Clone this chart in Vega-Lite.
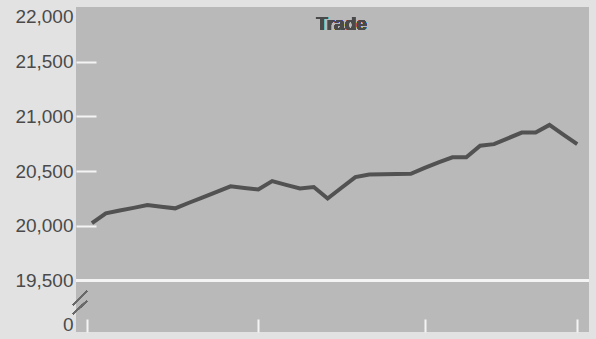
{
  "$schema": "https://vega.github.io/schema/vega-lite/v6.json",
  "width": 596,
  "height": 339,
  "autosize": {"type": "fit", "contains": "padding"},
  "padding": {"left": 0, "top": 6, "right": 6, "bottom": 4},
  "background": "#e2e2e2",
  "view": {"fill": "#b9b9b9", "stroke": null},
  "config": {
    "font": "Liberation Sans",
    "axis": {"grid": false, "domain": false}
  },
  "data": {
    "values": [
      {"month": 0, "trade": 20024},
      {"month": 1, "trade": 20115},
      {"month": 2, "trade": 20140},
      {"month": 3, "trade": 20164},
      {"month": 4, "trade": 20190},
      {"month": 5, "trade": 20174},
      {"month": 6, "trade": 20160},
      {"month": 7, "trade": 20211},
      {"month": 8, "trade": 20260},
      {"month": 9, "trade": 20311},
      {"month": 10, "trade": 20361},
      {"month": 11, "trade": 20346},
      {"month": 12, "trade": 20332},
      {"month": 13, "trade": 20409},
      {"month": 14, "trade": 20375},
      {"month": 15, "trade": 20341},
      {"month": 16, "trade": 20355},
      {"month": 17, "trade": 20250},
      {"month": 18, "trade": 20348},
      {"month": 19, "trade": 20445},
      {"month": 20, "trade": 20470},
      {"month": 21, "trade": 20472},
      {"month": 22, "trade": 20474},
      {"month": 23, "trade": 20476},
      {"month": 24, "trade": 20529},
      {"month": 25, "trade": 20581},
      {"month": 26, "trade": 20626},
      {"month": 27, "trade": 20626},
      {"month": 28, "trade": 20732},
      {"month": 29, "trade": 20747},
      {"month": 30, "trade": 20800},
      {"month": 31, "trade": 20852},
      {"month": 32, "trade": 20852},
      {"month": 33, "trade": 20922},
      {"month": 34, "trade": 20834},
      {"month": 35, "trade": 20747}
    ]
  },
  "layer": [
    {
      "mark": {"type": "rule", "color": "#f4f4f4", "strokeWidth": 2},
      "encoding": {"y": {"datum": 19500, "type": "quantitative"}}
    },
    {
      "mark": {"type": "line", "color": "#525252", "strokeWidth": 4, "strokeJoin": "miter"},
      "encoding": {
        "x": {
          "field": "month",
          "type": "quantitative",
          "scale": {"domain": [-1.15, 35.85], "nice": false, "zero": false},
          "axis": {
            "title": null,
            "labels": false,
            "values": [-0.35, 12, 24, 35],
            "tickSize": -13,
            "tickWidth": 2,
            "tickColor": "#f4f4f4"
          }
        },
        "y": {
          "field": "trade",
          "type": "quantitative",
          "scale": {"domain": [19030, 22000], "nice": false, "zero": false},
          "axis": {
            "title": null,
            "values": [19100, 19500, 20000, 20500, 21000, 21500, 22000],
            "labelExpr": "datum.value == 19100 ? '0' : format(datum.value, ',')",
            "labelFont": "Liberation Sans",
            "labelFontSize": 19,
            "labelColor": "#4a4a4a",
            "labelFlush": true,
            "labelPadding": 23,
            "tickSize": -20,
            "tickWidth": 2,
            "tickColor": {
              "condition": {"test": "datum.value == 19100 || datum.value == 22000 || datum.value == 19500", "value": "transparent"},
              "value": "#f4f4f4"
            },
            "minExtent": 76,
            "maxExtent": 76
          }
        }
      }
    },
    {
      "mark": {"type": "text", "text": "Trade", "fontWeight": "bold", "fontSize": 19, "color": "#4a4a4a", "baseline": "middle", "align": "center"},
      "encoding": {
        "x": {"datum": 18, "type": "quantitative"},
        "y": {"datum": 21843, "type": "quantitative"}
      }
    },
    {
      "mark": {"type": "rule", "color": "#6a6a6a", "strokeWidth": 1.2},
      "encoding": {
        "x": {"datum": -1.37, "type": "quantitative"},
        "x2": {"datum": -0.36},
        "y": {"datum": 19277, "type": "quantitative"},
        "y2": {"datum": 19404}
      }
    },
    {
      "mark": {"type": "rule", "color": "#6a6a6a", "strokeWidth": 1.2},
      "encoding": {
        "x": {"datum": -1.37, "type": "quantitative"},
        "x2": {"datum": -0.36},
        "y": {"datum": 19196, "type": "quantitative"},
        "y2": {"datum": 19313}
      }
    }
  ]
}
